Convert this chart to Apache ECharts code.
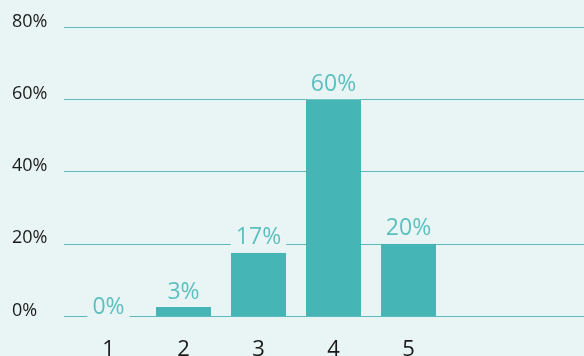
<!DOCTYPE html>
<html>
<head>
<meta charset="utf-8">
<script src="https://cdn.jsdelivr.net/npm/echarts@6/dist/echarts.min.js"></script>
<style>
html,body{margin:0;padding:0;background:#e9f5f5;}
#c{width:584px;height:356px;}
</style>
</head>
<body>
<div id="c"></div>
<script>
const categories = ['1', '2', '3', '4', '5', '', ''];
const values = [0, 2.5, 17.5, 60, 20];
const valueLabels = ['0%', '3%', '17%', '60%', '20%'];
const yTicks = [0, 20, 40, 60, 80];

const chart = echarts.init(document.getElementById('c'));
const font = 'Open Sans';
chart.setOption({
  backgroundColor: '#e9f5f5',
  animation: false,
  grid: [
    {left: 64, right: 0, top: 27, bottom: 40, outerBoundsMode: 'none', containLabel: false},
    {left: 71, width: 525, top: 27, bottom: 40, outerBoundsMode: 'none', containLabel: false}
  ],
  xAxis: [
    {gridIndex: 0, type: 'category', data: categories, show: false},
    {gridIndex: 1, type: 'category', data: categories,
     axisLine: {show: false}, axisTick: {show: false},
     axisLabel: {color: '#1a1a1a', fontSize: 22, fontFamily: font, margin: 23}}
  ],
  yAxis: [
    {gridIndex: 0, type: 'value', min: yTicks[0], max: yTicks[yTicks.length - 1], interval: 20,
     axisLine: {show: false}, axisTick: {show: false},
     axisLabel: {formatter: v => v + '%', color: '#1a1a1a', fontSize: 18, fontFamily: font,
                 align: 'left', margin: 52, verticalAlign: 'bottom', lineHeight: 11},
     splitLine: {lineStyle: {color: '#5cbaba', width: 1}}},
    {gridIndex: 1, type: 'value', min: yTicks[0], max: yTicks[yTicks.length - 1], show: false,
     splitLine: {show: false}}
  ],
  series: [{
    type: 'bar',
    xAxisIndex: 1, yAxisIndex: 1,
    data: values.map(v => v === 0 ? {value: v, label: {offset: [0, 6]}} : v),
    barWidth: 55,
    itemStyle: {color: '#45b5b5'},
    label: {
      show: true, position: 'top', distance: 0,
      formatter: p => valueLabels[p.dataIndex],
      color: '#5cbfbf', fontSize: 23, fontFamily: font,
      backgroundColor: '#e9f5f5', padding: [0, 5, 2, 5], lineHeight: 26
    }
  }]
});
</script>
</body>
</html>
